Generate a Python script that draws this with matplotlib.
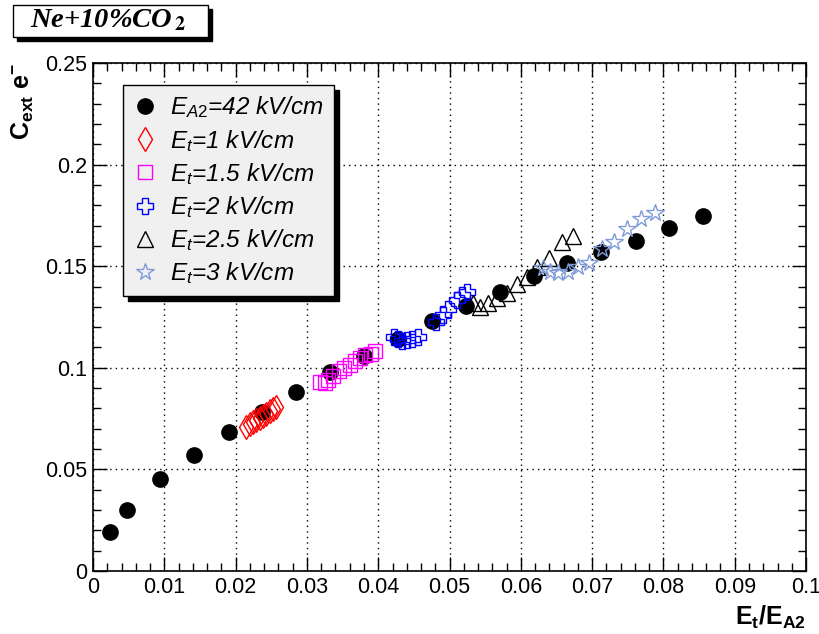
import matplotlib
matplotlib.use("Agg")
import matplotlib.pyplot as plt
from matplotlib.ticker import MultipleLocator, FormatStrFormatter
from matplotlib.patches import Rectangle

plt.rcParams['font.family'] = ['Liberation Sans', 'DejaVu Sans']
plt.rcParams['mathtext.fontset'] = 'custom'
plt.rcParams['mathtext.rm'] = 'Liberation Sans'
plt.rcParams['mathtext.it'] = 'Liberation Sans:italic'
plt.rcParams['mathtext.bf'] = 'Liberation Sans:bold'

# E_A2 = 42 kV/cm (black dots)
ea2_x = [0.00234, 0.0047, 0.0094, 0.0142, 0.0191, 0.0237, 0.0285, 0.0332, 0.0380,
         0.0428, 0.0475, 0.0523, 0.0571, 0.0618, 0.0665, 0.0713, 0.0761, 0.0808, 0.0855]
ea2_y = [0.0192, 0.0300, 0.0454, 0.0572, 0.0684, 0.0782, 0.0879, 0.0979, 0.1058,
         0.1140, 0.1229, 0.1305, 0.1371, 0.1451, 0.1517, 0.1570, 0.1625, 0.1686, 0.1747]

# E_t = 1 kV/cm
et1_x = [0.0215, 0.0220, 0.0225, 0.0229, 0.0234, 0.0238, 0.0243, 0.0248, 0.0252, 0.0256]
et1_y = [0.0710, 0.0722, 0.0734, 0.0745, 0.0755, 0.0765, 0.0775, 0.0785, 0.0795, 0.0805]

# E_t = 1.5 kV/cm
et15_x = [0.0318, 0.0325, 0.0330, 0.0337, 0.0345, 0.0352, 0.0360, 0.0367, 0.0375, 0.0382, 0.0390, 0.0395]
et15_y = [0.0930, 0.0925, 0.0940, 0.0960, 0.0985, 0.1000, 0.1015, 0.1035, 0.1050, 0.1065, 0.1070, 0.1085]

# E_t = 2 kV/cm
et2_x = [0.0422, 0.0428, 0.0434, 0.0441, 0.0448, 0.0456, 0.0481, 0.0491, 0.0498, 0.0511, 0.0518, 0.0525]
et2_y = [0.1150, 0.1140, 0.1132, 0.1135, 0.1140, 0.1150, 0.1225, 0.1258, 0.1290, 0.1332, 0.1360, 0.1373]

# E_t = 2.5 kV/cm
et25_x = [0.0533, 0.0543, 0.0554, 0.0567, 0.0581, 0.0595, 0.0609, 0.0623, 0.0640, 0.0658, 0.0673]
et25_y = [0.1319, 0.1300, 0.1320, 0.1343, 0.1368, 0.1412, 0.1447, 0.1496, 0.1540, 0.1620, 0.1650]

# E_t = 3 kV/cm
et3_x = [0.0631, 0.0641, 0.0652, 0.0666, 0.0680, 0.0696, 0.0714, 0.0731, 0.0749, 0.0769, 0.0788]
et3_y = [0.1490, 0.1471, 0.1466, 0.1471, 0.1496, 0.1515, 0.1584, 0.1619, 0.1683, 0.1732, 0.1761]

fig = plt.figure(figsize=(8.19, 6.34), dpi=100)
ax = fig.add_axes([0.1136, 0.0994, 0.8706, 0.8012])

ax.plot(ea2_x, ea2_y, 'o', color='black', ms=11, label=r'$E_{\mathit{A2}}$=42 kV/cm')
ax.plot(et1_x, et1_y, 'd', color='red', mfc='none', ms=12, mew=1,
        label=r'$E_{t}$=1 kV/cm')
ax.plot(et15_x, et15_y, 's', color='#ff00ff', mfc='none', ms=9.5, mew=1,
        label=r'$E_{t}$=1.5 kV/cm')
ax.plot(et2_x, et2_y, 'P', color='blue', mfc='none', ms=12, mew=1,
        label=r'$E_{t}$=2 kV/cm')
ax.plot(et25_x, et25_y, '^', color='black', mfc='none', ms=12, mew=1,
        label=r'$E_{t}$=2.5 kV/cm')
ax.plot(et3_x, et3_y, '*', color='#7f9cd9', mfc='none', ms=13, mew=1,
        label=r'$E_{t}$=3 kV/cm')

ax.set_xlim(0, 0.1)
ax.set_ylim(0, 0.25)
ax.xaxis.set_major_locator(MultipleLocator(0.01))
ax.xaxis.set_minor_locator(MultipleLocator(0.002))
ax.yaxis.set_major_locator(MultipleLocator(0.05))
ax.yaxis.set_minor_locator(MultipleLocator(0.01))
ax.xaxis.set_major_formatter(FormatStrFormatter('%g'))
ax.yaxis.set_major_formatter(FormatStrFormatter('%g'))
ax.tick_params(which='both', direction='in', top=True, right=True, labelsize=15.5, width=1)
ax.tick_params(which='major', length=10)
ax.tick_params(which='minor', length=5.5)
ax.tick_params(axis='x', pad=4)
ax.tick_params(axis='y', pad=4)
for s in ax.spines.values():
    s.set_linewidth(1.2)
ax.grid(True, which='major', color='black', linestyle=(0, (1, 3)), linewidth=1)

ax.set_xlabel(r'$\mathbf{E_{t}/E_{A2}}$', fontsize=18, loc='right')
ax.xaxis.set_label_coords(1.0, -0.065)
ax.set_ylabel(r'$\mathbf{C_{ext}\ e^{-}}$', fontsize=18, loc='top')
ax.yaxis.set_label_coords(-0.08, 1.0)

leg = ax.legend(loc='upper left', bbox_to_anchor=(0.042, 0.957), numpoints=1,
                prop={'style': 'italic', 'size': 17.5}, fancybox=False,
                facecolor='#f0f0f0', edgecolor='black', framealpha=1,
                handlelength=1.0, handletextpad=0.55, borderpad=0.4,
                labelspacing=0.3, borderaxespad=0,
                shadow={'color': 'black', 'alpha': 1, 'ox': 3.5, 'oy': -3.5})
leg.get_frame().set_linewidth(1)

# title box
fig.patches.append(Rectangle((0.0159 + 0.005, 0.9416 - 0.0065), 0.238, 0.0504,
                             transform=fig.transFigure, facecolor='black',
                             edgecolor='black', zorder=1))
fig.patches.append(Rectangle((0.0159, 0.9416), 0.238, 0.0504,
                             transform=fig.transFigure, facecolor='white',
                             edgecolor='black', linewidth=1, zorder=2))
fig.text(0.132, 0.968, r'Ne+10%CO$_{\,\mathbf{2}}$', ha='center', va='center',
         family='Liberation Serif', style='italic', weight='bold', fontsize=20.5,
         math_fontfamily='stix', zorder=3)

fig.savefig('out.png', dpi=100)
